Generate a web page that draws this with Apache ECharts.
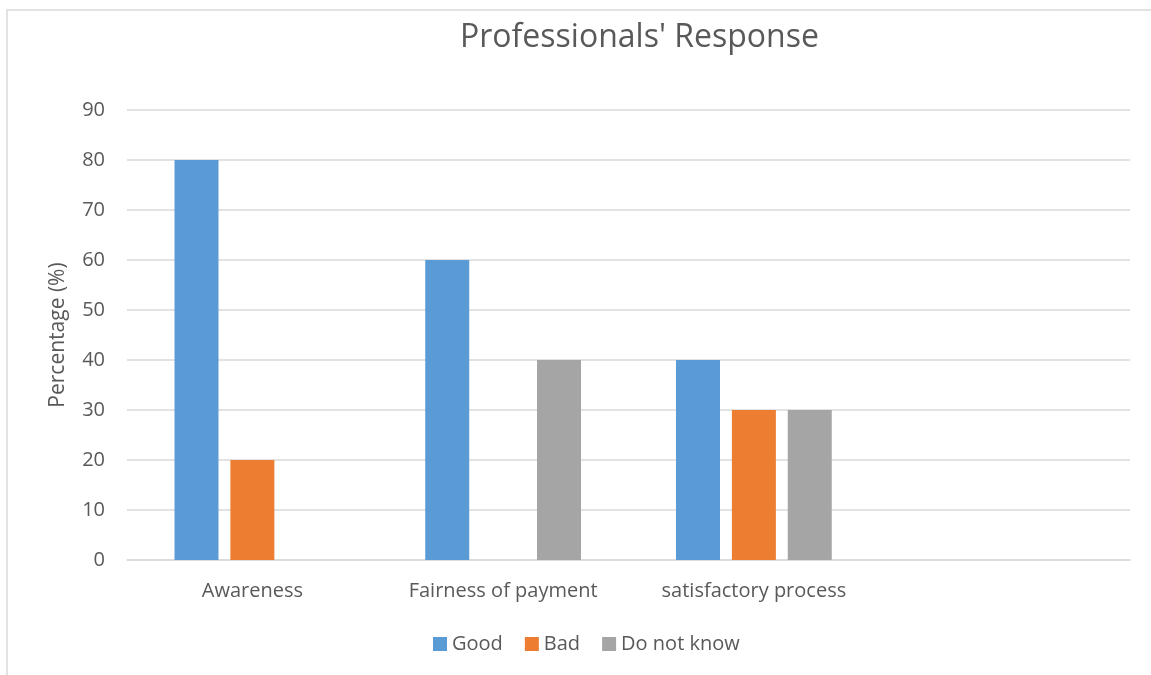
<!DOCTYPE html>
<html>
<head>
<meta charset="utf-8">
<script src="https://cdn.jsdelivr.net/npm/echarts@6/dist/echarts.min.js"></script>
<style>
  html, body { margin: 0; padding: 0; background: #fff; }
  #chart { width: 1151px; height: 675px; }
</style>
</head>
<body>
<div id="chart"></div>
<script>
  // categories (the last one is an empty slot, as in the original chart)
  let categories = ['Awareness', 'Fairness of payment', 'satisfactory process', '']
  let good = [80, 60, 40, null]
  let bad = [20, null, 30, null]
  let doNotKnow = [null, 40, 30, null]
  let yTicks = [0, 10, 20, 30, 40, 50, 60, 70, 80, 90]

  let font = '"Open Sans", "Liberation Sans", sans-serif'
  let textColor = '#595959'

  let myChart = echarts.init(document.getElementById('chart'))
  let option = {
    animation: false,
    textStyle: { fontFamily: font },
    title: {
      text: "Professionals' Response",
      left: 455,
      top: 17,
      textStyle: { fontFamily: font, fontSize: 32, fontWeight: 'normal', color: textColor }
    },
    graphic: [{
      type: 'rect',
      shape: { x: 7, y: 10, width: 1200, height: 700 },
      style: { fill: 'none', stroke: '#d9d9d9', lineWidth: 1.5 },
      silent: true,
      z: -1
    }],
    legend: {
      bottom: 16,
      left: 428,
      itemWidth: 14,
      itemHeight: 14,
      itemGap: 22,
      icon: 'rect',
      textStyle: { fontFamily: font, fontSize: 20, color: textColor },
      data: ['Good', 'Bad', 'Do not know']
    },
    grid: {
      left: 127,
      right: 21,
      top: 110,
      bottom: 115
    },
    xAxis: {
      type: 'category',
      data: categories,
      axisLine: { lineStyle: { color: '#d9d9d9', width: 1.5 } },
      axisTick: { show: false },
      axisLabel: { fontFamily: font, fontSize: 20, color: textColor, margin: 21, interval: 0, hideOverlap: false }
    },
    yAxis: {
      type: 'value',
      min: yTicks[0],
      max: yTicks[yTicks.length - 1],
      interval: 10,
      name: 'Percentage (%)',
      nameLocation: 'middle',
      nameGap: 58,
      nameTextStyle: { fontFamily: font, fontSize: 21, color: textColor },
      axisLine: { show: false },
      axisTick: { show: false },
      axisLabel: { fontFamily: font, fontSize: 20, color: textColor, margin: 22 },
      splitLine: { lineStyle: { color: '#d9d9d9', width: 1.5 } }
    },
    series: [
      {
        name: 'Good',
        type: 'bar',
        data: good,
        barWidth: 44,
        barGap: '27%',
        itemStyle: { color: '#5b9bd5' }
      },
      {
        name: 'Bad',
        type: 'bar',
        data: bad,
        barWidth: 44,
        itemStyle: { color: '#ed7d31' }
      },
      {
        name: 'Do not know',
        type: 'bar',
        data: doNotKnow,
        barWidth: 44,
        itemStyle: { color: '#a5a5a5' }
      }
    ]
  }
  myChart.setOption(option)
</script>
</body>
</html>
